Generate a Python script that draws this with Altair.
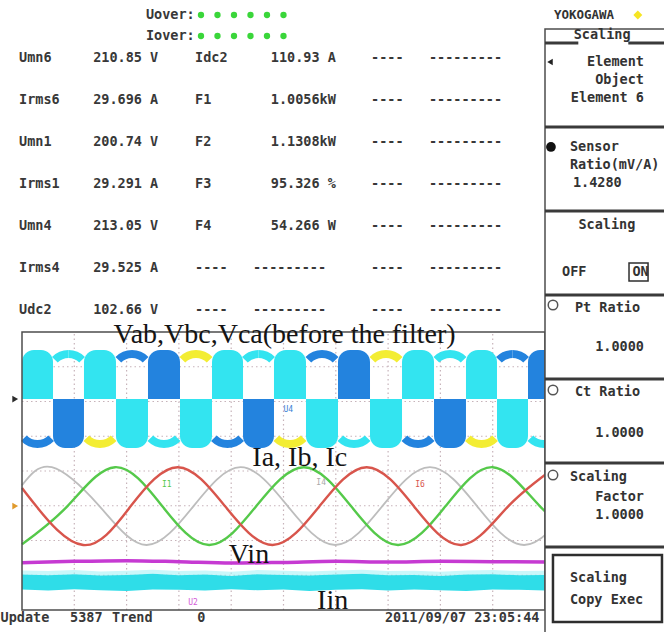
import altair as alt
import pandas as pd

# ------------------------------------------------------------------ readout table
row_names = ["Umn6", "Irms6", "Umn1", "Irms1", "Umn4", "Irms4", "Udc2"]
row_values = ["210.85 V", "29.696 A", "200.74 V", "29.291 A", "213.05 V", "29.525 A", "102.66 V"]
func_names = ["Idc2", "F1", "F2", "F3", "F4", "----", "----"]
func_values = ["110.93 A", "1.0056kW", "1.1308kW", "95.326 %", "54.266 W", "---------", "---------"]
spare_names = ["----", "----", "----", "----", "----", "----", "----"]
spare_values = ["---------", "---------", "---------", "---------", "---------", "---------", "---------"]

over_labels = ["Uover:", "Iover:"]
over_elements = [1, 2, 3, 4, 5, 6]

# ------------------------------------------------------------------ scope traces
# time in horizontal divisions (0..10), amplitude in vertical divisions (-4..4)
slot_edges = [0.0, 0.593, 1.185, 1.797, 2.409, 3.021, 3.633, 4.226, 4.818, 5.430,
              6.042, 6.654, 7.266, 7.878, 8.489, 9.082, 9.675, 10.287]
slot_polarity = [1, -1, 1, -1, 1, -1, 1, -1, 1, -1, 1, -1, 1, -1, 1, -1, 1]
block_phase = ["Vab", "Vbc", "Vab", "Vab", "Vbc", "Vab", "Vab", "Vbc", "Vab",
               "Vab", "Vbc", "Vab", "Vab", "Vbc", "Vab", "Vab", "Vbc"]
edge_phase = ["Vbc", "Vab", "Vca", "Vbc", "Vab", "Vca", "Vbc", "Vab", "Vca",
              "Vbc", "Vab", "Vca", "Vbc", "Vab", "Vca", "Vbc", "Vab"]
band_mid = 2.07
band_half = 1.41

ia_t = [0.0, 0.87, 1.78, 2.68, 3.58, 4.48, 5.39, 6.29, 7.19, 8.10, 9.00, 9.90, 10.80]
ia_v = [-2.11, -1.01, 0.11, -1.01, -2.13, -1.01, 0.11, -1.01, -2.13, -1.01, 0.11, -1.01, -2.13]
ib_t = [0.0, 0.57, 1.48, 2.38, 3.28, 4.18, 5.08, 5.99, 6.89, 7.80, 8.70, 9.60, 10.50]
ib_v = [-0.41, 0.11, -1.01, -2.13, -1.01, 0.11, -1.01, -2.13, -1.01, 0.11, -1.01, -2.13, -1.01]
ic_t = [0.0, 0.27, 1.17, 2.08, 2.98, 3.88, 4.79, 5.69, 6.59, 7.49, 8.40, 9.30, 10.20]
ic_v = [-0.49, -1.01, -2.13, -1.01, 0.11, -1.01, -2.13, -1.01, 0.11, -1.01, -2.13, -1.01, 0.11]

vin_t = [0, 1, 2, 3, 4, 5, 6, 7, 8, 9, 10, 10.4]
vin_v = [-2.64, -2.60, -2.58, -2.61, -2.65, -2.63, -2.60, -2.62, -2.60, -2.61, -2.62, -2.62]

iin_t = [0, 0.5, 1, 1.5, 2, 2.5, 3, 3.5, 4, 4.5, 5, 5.5, 6, 6.5, 7, 7.5, 8, 8.5, 9, 9.5, 10, 10.4]
iin_hi = [-2.98, -3.00, -2.97, -3.01, -2.99, -2.96, -3.00, -2.98, -3.02, -2.97, -2.99,
          -3.01, -2.98, -2.96, -3.00, -2.99, -3.02, -2.98, -2.97, -3.00, -2.99, -2.99]
iin_lo = [-3.41, -3.44, -3.40, -3.43, -3.45, -3.41, -3.42, -3.44, -3.40, -3.43, -3.41,
          -3.45, -3.42, -3.40, -3.44, -3.41, -3.43, -3.45, -3.41, -3.42, -3.44, -3.44]

grid_x = [1, 2, 3, 4, 5, 6, 7, 8, 9]
grid_y = [-3, -2, -1, 0, 1, 2, 3]

trace_titles = ["Vab,Vbc,Vca(before the filter)", "Ia, Ib, Ic", "Vin", "Iin"]
trace_tags = ["U4", "I1", "I4", "I6", "U2"]
status_items = ["Update", "5387", "Trend", "0", "2011/09/07 23:05:44"]

# ------------------------------------------------------------------ menu panel
brand = "YOKOGAWA"
menu_title = "Scaling"
menu_items = [
    ["Element", "Object", "Element 6"],
    ["Sensor", "Ratio(mV/A)", "1.4280"],
    ["Scaling", "OFF", "ON"],
    ["Pt Ratio", "1.0000"],
    ["Ct Ratio", "1.0000"],
    ["Scaling", "Factor", "1.0000"],
    ["Scaling", "Copy Exec"],
]

# ------------------------------------------------------------------ styling
MONO = "DejaVu Sans Mono"
SERIF = "Liberation Serif"
INK = "#383838"
GRID = "#c7b3ba"
PHASE_SCALE = alt.Scale(domain=["Vab", "Vbc", "Vca"], range=["#33e4f0", "#2383de", "#f3ed33"])

SX = alt.Scale(domain=[0, 10], range=[22, 545], nice=False, zero=False)
SY = alt.Scale(domain=[-4, 4], range=[610, 332], nice=False, zero=False)
PX_PER_DIV_Y = 34.75
EDGE_R = 23      # px, outer radius of the thin band-edge arcs
EDGE_W = 8       # px, thickness of those arcs
EDGE_A = 0.80    # rad, half opening of those arcs
CAP_R = 12       # px, rounding of the band blocks


def sx(f):
    return alt.X(f"{f}:Q", scale=SX, axis=None)


def sy(f):
    return alt.Y(f"{f}:Q", scale=SY, axis=None)


# ---------------- scope ----------------
gv = pd.DataFrame({"x": grid_x, "lo": -4, "hi": 4})
gh = pd.DataFrame({"y": grid_y, "lo": 0, "hi": 10})
grid_v = alt.Chart(gv).mark_rule(color=GRID, strokeDash=[1.5, 3], strokeWidth=1.2).encode(
    x=sx("x"), y=sy("lo"), y2=alt.Y2("hi:Q"))
grid_h = alt.Chart(gh).mark_rule(color=GRID, strokeDash=[1.5, 3], strokeWidth=1.2).encode(
    y=sy("y"), x=sx("lo"), x2=alt.X2("hi:Q"))

vdf = pd.DataFrame({
    "t0": slot_edges[:-1],
    "t1": slot_edges[1:],
    "pol": slot_polarity,
    "block": block_phase,
    "edge": edge_phase,
})
vdf["tc"] = (vdf["t0"] + vdf["t1"]) / 2
vdf["inner"] = band_mid
vdf["outer"] = band_mid + vdf["pol"] * band_half
vdf["edge_y"] = band_mid - vdf["pol"] * (band_half - EDGE_R / PX_PER_DIV_Y)

blk_enc = dict(x=sx("t0"), x2=alt.X2("t1:Q"), y=sy("inner"), y2=alt.Y2("outer:Q"),
               color=alt.Color("block:N", scale=PHASE_SCALE, legend=None))
blocks_up = alt.Chart(vdf).transform_filter("datum.pol > 0").mark_rect(
    cornerRadiusTopLeft=CAP_R, cornerRadiusTopRight=CAP_R).encode(**blk_enc)
blocks_dn = alt.Chart(vdf).transform_filter("datum.pol < 0").mark_rect(
    cornerRadiusBottomLeft=CAP_R, cornerRadiusBottomRight=CAP_R).encode(**blk_enc)

edge_enc = dict(x=sx("tc"), y=sy("edge_y"),
                color=alt.Color("edge:N", scale=PHASE_SCALE, legend=None))
edge_top_r = alt.Chart(vdf).transform_filter("datum.pol < 0").mark_arc(
    radius=EDGE_R, radius2=EDGE_R - EDGE_W, theta=0, theta2=EDGE_A).encode(**edge_enc)
edge_top_l = alt.Chart(vdf).transform_filter("datum.pol < 0").mark_arc(
    radius=EDGE_R, radius2=EDGE_R - EDGE_W, theta=6.2832 - EDGE_A, theta2=6.2832).encode(**edge_enc)
edge_bot = alt.Chart(vdf).transform_filter("datum.pol > 0").mark_arc(
    radius=EDGE_R, radius2=EDGE_R - EDGE_W, theta=3.1416 - EDGE_A, theta2=3.1416 + EDGE_A).encode(**edge_enc)


def trace(t, v, color, width):
    df = pd.DataFrame({"t": t, "v": v})
    return alt.Chart(df).mark_line(interpolate="natural", color=color, strokeWidth=width).encode(
        x=sx("t"), y=sy("v"))


ib_line = trace(ib_t, ib_v, "#bdbdbd", 1.8)
ia_line = trace(ia_t, ia_v, "#55c94a", 2.4)
ic_line = trace(ic_t, ic_v, "#d8554c", 2.4)

vin_line = alt.Chart(pd.DataFrame({"t": vin_t, "v": vin_v})).mark_line(
    interpolate="monotone", color="#c63ad2", strokeWidth=3.5).encode(x=sx("t"), y=sy("v"))

idf = pd.DataFrame({"t": iin_t, "hi": iin_hi, "lo": iin_lo})
idf["haze"] = idf["hi"] + 0.12
iin_haze = alt.Chart(idf).mark_area(color="#a6f1f6", opacity=0.6).encode(
    x=sx("t"), y=sy("haze"), y2=alt.Y2("hi:Q"))
iin_band = alt.Chart(idf).mark_area(color="#2fdde8").encode(
    x=sx("t"), y=sy("hi"), y2=alt.Y2("lo:Q"))

frame_df = pd.DataFrame({"x0": [0], "x1": [10], "y0": [-4], "y1": [4]})
frame = alt.Chart(frame_df).mark_rect(fillOpacity=0, stroke="#4d4d4d", strokeWidth=1.5).encode(
    x=sx("x0"), x2=alt.X2("x1:Q"), y=sy("y0"), y2=alt.Y2("y1:Q"))

marker_df = pd.DataFrame({"x": [-0.13, -0.13], "y": [band_mid, -1.01],
                          "c": ["#2a2a2a", "#e09a2c"]})
markers = alt.Chart(marker_df).mark_point(shape="triangle-right", filled=True, size=45, opacity=1).encode(
    x=sx("x"), y=sy("y"), color=alt.Color("c:N", scale=None))

title_df = pd.DataFrame({"text": trace_titles,
                         "x": [5.02, 5.31, 4.34, 5.94],
                         "y": [3.68, 0.14, -2.65, -3.97]})
titles = alt.Chart(title_df).mark_text(font=SERIF, fontSize=28, color="#141414",
                                       align="center", baseline="alphabetic").encode(
    x=sx("x"), y=sy("y"), text="text:N")

tag_df = pd.DataFrame({"text": trace_tags,
                       "x": [5.09, 2.77, 5.72, 7.61, 3.27],
                       "y": [1.76, -0.40, -0.35, -0.40, -3.80],
                       "c": ["#3a7fd6", "#55c94a", "#a9a9a9", "#d8554c", "#d35ad8"]})
tags = alt.Chart(tag_df).mark_text(font=MONO, fontSize=8, align="center", baseline="middle").encode(
    x=sx("x"), y=sy("y"), text="text:N", color=alt.Color("c:N", scale=None))

status_df = pd.DataFrame({"text": status_items,
                          "x": [-0.41, 0.92, 1.72, 3.35, 6.94],
                          "y": [-4.23] * 5})
status = alt.Chart(status_df).mark_text(font=MONO, fontSize=13.5, fontWeight="bold", color=INK,
                                        align="left", baseline="middle").encode(
    x=sx("x"), y=sy("y"), text="text:N")

scope = alt.layer(grid_v, grid_h, blocks_up, blocks_dn, edge_top_r, edge_top_l, edge_bot,
                  ib_line, ia_line, ic_line, vin_line, iin_haze, iin_band, frame, markers,
                  titles, tags, status)

# ---------------- readout table ----------------
col_char = {"name": 0, "value": 9.1, "fname": 21.6, "fdash": 28.7, "fvalue": 30.9,
            "sname": 43.2, "svalue": 50.3}
cells = []
for i in range(len(row_names)):
    for key, seq in (("name", row_names), ("value", row_values), ("fname", func_names),
                     ("fvalue", func_values), ("sname", spare_names), ("svalue", spare_values)):
        txt = seq[i]
        col = "fdash" if key == "fvalue" and set(txt) == {"-"} else key
        cells.append({"row": i, "col": col_char[col], "text": txt})
tdf = pd.DataFrame(cells)
TX = alt.Scale(domain=[0, 60], range=[19, 19 + 60 * 8.15], nice=False, zero=False)
TY = alt.Scale(domain=[0, 6], range=[58, 310], nice=False, zero=False)
table = alt.Chart(tdf).mark_text(font=MONO, fontSize=13.5, fontWeight="bold", color=INK,
                                 align="left", baseline="middle").encode(
    x=alt.X("col:Q", scale=TX, axis=None), y=alt.Y("row:Q", scale=TY, axis=None), text="text:N")

# ---------------- over-range indicators ----------------
HX = alt.Scale(domain=[0, 5], range=[201, 283.5], nice=False, zero=False)
HY = alt.Scale(domain=[0, 1], range=[15, 36], nice=False, zero=False)
hl = pd.DataFrame({"label": over_labels, "r": [0, 1], "x": -0.38})
hd = pd.DataFrame([{"r": r, "e": e - 1} for r in range(len(over_labels)) for e in over_elements])
over_text = alt.Chart(hl).mark_text(font=MONO, fontSize=13.5, fontWeight="bold", color=INK,
                                    align="right", baseline="middle").encode(
    x=alt.X("x:Q", scale=HX, axis=None), y=alt.Y("r:Q", scale=HY, axis=None), text="label:N")
over_dots = alt.Chart(hd).mark_point(shape="circle", filled=True, size=40, color="#3ad63a", opacity=1).encode(
    x=alt.X("e:Q", scale=HX, axis=None), y=alt.Y("r:Q", scale=HY, axis=None))
header = alt.layer(over_text, over_dots)

# ---------------- menu panel ----------------
MX = alt.Scale(domain=[0, 1], range=[545, 664], nice=False, zero=False)
MY = alt.Scale(domain=[0, 6], range=[43, 547], nice=False, zero=False)


def mx(f):
    return alt.X(f"{f}:Q", scale=MX, axis=None)


def my(f):
    return alt.Y(f"{f}:Q", scale=MY, axis=None)


# where each line of each menu box sits: (offset within box, x, alignment)
line_layout = [
    [(0.226, 0.832, "right"), (0.440, 0.832, "right"), (0.655, 0.832, "right")],
    [(0.238, 0.21, "left"), (0.452, 0.21, "left"), (0.667, 0.235, "left")],
    [(0.167, 0.52, "center"), (0.726, 0.143, "left"), (0.726, 0.735, "left")],
    [(0.155, 0.252, "left"), (0.619, 0.832, "right")],
    [(0.155, 0.252, "left"), (0.643, 0.832, "right")],
    [(0.167, 0.21, "left"), (0.405, 0.832, "right"), (0.619, 0.832, "right")],
    [(0.369, 0.21, "left"), (0.631, 0.21, "left")],
]
mrows = []
for s, lines in enumerate(menu_items):
    for txt, (dy, x, al) in zip(lines, line_layout[s]):
        mrows.append({"text": txt, "x": x, "y": s + dy, "align": al})
mrows.append({"text": menu_title, "x": 0.48, "y": -0.095, "align": "center"})
mdf = pd.DataFrame(mrows)


def menu_text(al):
    return alt.Chart(mdf).transform_filter(f"datum.align == '{al}'").mark_text(
        font=MONO, fontSize=13.5, fontWeight="bold", color="#333333", align=al, baseline="middle"
    ).encode(x=mx("x"), y=my("y"), text="text:N")


panel = alt.Chart(pd.DataFrame({"x0": [0], "x1": [1.2], "y0": [-0.167], "y1": [7.3]})).mark_rect(
    fill="white", stroke="#4d4d4d", strokeWidth=1.5).encode(
    x=mx("x0"), x2=alt.X2("x1:Q"), y=my("y0"), y2=alt.Y2("y1:Q"))
sep_df = pd.DataFrame({"y": [0, 0, 1, 2, 3, 4, 5, 6],
                       "x0": [0, 0.70, 0, 0, 0, 0, 0, 0],
                       "x1": [0.28, 1.2, 1.2, 1.2, 1.2, 1.2, 1.2, 1.2]})
seps = alt.Chart(sep_df).mark_rule(color="#3a3a3a", strokeWidth=3).encode(
    y=my("y"), x=mx("x0"), x2=alt.X2("x1:Q"))
boxes = alt.Chart(pd.DataFrame({"x0": [0.067, 0.706], "x1": [0.983, 0.866],
                                "y0": [6.095, 2.619], "y1": [6.893, 2.833],
                                "w": [2.5, 1.5]})).mark_rect(
    fillOpacity=0, stroke="#2e2e2e").encode(
    x=mx("x0"), x2=alt.X2("x1:Q"), y=my("y0"), y2=alt.Y2("y1:Q"),
    strokeWidth=alt.StrokeWidth("w:Q", scale=None))
sel_icon = alt.Chart(pd.DataFrame({"x": [0.042], "y": [0.226]})).mark_point(
    shape="triangle-left", filled=True, size=40, color="#222", opacity=1).encode(x=mx("x"), y=my("y"))
radio_icon = alt.Chart(pd.DataFrame({"x": [0.05], "y": [1.238]})).mark_point(
    shape="circle", filled=True, size=95, color="#111", opacity=1).encode(x=mx("x"), y=my("y"))
dial_icon = alt.Chart(pd.DataFrame({"x": [0.067] * 3, "y": [3.119, 4.131, 5.143]})).mark_point(
    shape="circle", filled=False, size=90, color="#555", strokeWidth=1.5, opacity=1).encode(x=mx("x"), y=my("y"))
brand_text = alt.Chart(pd.DataFrame({"text": [brand], "x": [0.075], "y": [-0.333]})).mark_text(
    font=MONO, fontSize=12.5, fontWeight="bold", color="#333", align="left", baseline="middle").encode(
    x=mx("x"), y=my("y"), text="text:N")
brand_lamp = alt.Chart(pd.DataFrame({"x": [0.78], "y": [-0.333]})).mark_point(
    shape="diamond", filled=True, size=80, color="#f6e523", opacity=1).encode(x=mx("x"), y=my("y"))

sidebar = alt.layer(panel, seps, boxes, sel_icon, radio_icon, dial_icon, brand_text, brand_lamp,
                    menu_text("left"), menu_text("right"), menu_text("center"))

chart = alt.layer(scope, table, header, sidebar).resolve_scale(
    x="independent", y="independent"
).properties(
    width=664, height=632, padding=0, background="white",
    autosize=alt.AutoSizeParams(type="none"),
).configure_view(stroke=None)

chart.save("out.html", embed_options={"renderer": "svg", "actions": False})
